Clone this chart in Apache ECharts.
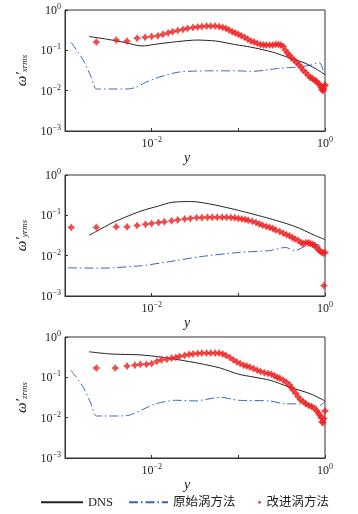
<!DOCTYPE html>
<html><head><meta charset="utf-8">
<script src="https://cdn.jsdelivr.net/npm/echarts@6/dist/echarts.min.js"></script>
<style>html,body{margin:0;padding:0;background:#fff}#c{width:358px;height:514px}</style>
</head><body><div id="c"></div>
<script>
// Panel 1 (x component)
const dns1 = [[0.0019,0.22],[0.003,0.19],[0.005,0.155],[0.0077,0.128],[0.012,0.145],[0.02,0.165],[0.033,0.18],[0.055,0.17],[0.09,0.14],[0.14,0.12],[0.25,0.09],[0.39,0.065],[0.59,0.048],[0.80,0.034],[1.0,0.025]];
const orig1 = [[0.00117,0.16],[0.0016,0.06],[0.0020,0.022],[0.0023,0.011],[0.0035,0.011],[0.0052,0.011],[0.0065,0.012],[0.0085,0.016],[0.0125,0.022],[0.021,0.029],[0.047,0.031],[0.070,0.031],[0.10,0.031],[0.14,0.030],[0.20,0.032],[0.30,0.036],[0.45,0.038],[0.55,0.040],[0.68,0.043],[0.80,0.048],[0.86,0.050],[0.92,0.040],[0.96,0.030],[1.0,0.028]];
const impr1 = [[0.0023,0.16],[0.0039,0.18],[0.0052,0.17],[0.0068,0.20],[0.0084,0.21],[0.0100,0.22],[0.0118,0.23],[0.0135,0.25],[0.0155,0.27],[0.0175,0.29],[0.020,0.31],[0.023,0.33],[0.026,0.35],[0.030,0.37],[0.034,0.38],[0.038,0.39],[0.043,0.40],[0.048,0.40],[0.054,0.40],[0.060,0.39],[0.066,0.37],[0.072,0.35],[0.078,0.32],[0.085,0.29],[0.092,0.27],[0.100,0.25],[0.108,0.23],[0.118,0.21],[0.128,0.19],[0.140,0.17],[0.152,0.16],[0.165,0.15],[0.180,0.14],[0.195,0.135],[0.21,0.135],[0.23,0.135],[0.25,0.135],[0.27,0.14],[0.29,0.14],[0.31,0.135],[0.33,0.125],[0.35,0.10],[0.37,0.085],[0.39,0.075],[0.41,0.065],[0.44,0.058],[0.47,0.050],[0.50,0.044],[0.53,0.038],[0.56,0.032],[0.60,0.028],[0.64,0.024],[0.68,0.021],[0.72,0.020],[0.76,0.018],[0.80,0.017],[0.84,0.015],[0.87,0.014],[0.90,0.012],[0.92,0.0105],[0.95,0.010],[0.97,0.011],[0.99,0.013],[1.0,0.014]];
// Panel 2 (y component)
const dns2 = [[0.0019,0.032],[0.0023,0.040],[0.0035,0.065],[0.0049,0.089],[0.0077,0.13],[0.012,0.17],[0.017,0.21],[0.029,0.22],[0.054,0.18],[0.10,0.133],[0.23,0.083],[0.45,0.053],[0.76,0.032],[1.0,0.025]];
const orig2 = [[0.00108,0.005],[0.0025,0.0049],[0.0074,0.0056],[0.016,0.0071],[0.036,0.0094],[0.10,0.012],[0.23,0.0134],[0.35,0.016],[0.45,0.0134],[0.59,0.017],[0.83,0.019],[0.92,0.014],[1.0,0.013]];
const impr2 = [[0.00118,0.05],[0.0023,0.05],[0.0039,0.052],[0.0052,0.052],[0.0068,0.056],[0.0085,0.06],[0.0100,0.063],[0.012,0.066],[0.014,0.069],[0.017,0.073],[0.020,0.077],[0.024,0.081],[0.028,0.084],[0.033,0.087],[0.038,0.088],[0.044,0.089],[0.050,0.089],[0.057,0.089],[0.065,0.089],[0.073,0.089],[0.082,0.088],[0.091,0.087],[0.10,0.084],[0.11,0.081],[0.12,0.079],[0.13,0.075],[0.145,0.071],[0.16,0.066],[0.175,0.061],[0.19,0.057],[0.21,0.053],[0.23,0.050],[0.25,0.047],[0.27,0.043],[0.30,0.040],[0.33,0.036],[0.36,0.033],[0.39,0.031],[0.42,0.028],[0.45,0.026],[0.49,0.024],[0.53,0.021],[0.56,0.020],[0.60,0.021],[0.64,0.021],[0.68,0.020],[0.72,0.019],[0.76,0.018],[0.80,0.016],[0.84,0.014],[0.88,0.013],[0.92,0.012],[0.96,0.0115],[1.0,0.012],[0.97,0.0018]];
// Panel 3 (z component)
const dns3 = [[0.0019,0.43],[0.0033,0.38],[0.0074,0.36],[0.0125,0.32],[0.021,0.27],[0.036,0.22],[0.062,0.17],[0.10,0.12],[0.23,0.085],[0.39,0.057],[0.68,0.039],[1.0,0.026]];
const orig3 = [[0.00117,0.15],[0.0016,0.06],[0.0020,0.022],[0.0023,0.011],[0.0038,0.011],[0.0055,0.0115],[0.0084,0.017],[0.011,0.022],[0.019,0.027],[0.032,0.026],[0.062,0.032],[0.10,0.027],[0.23,0.026],[0.35,0.022],[0.59,0.022],[0.83,0.019],[1.0,0.025]];
const impr3 = [[0.0023,0.17],[0.0038,0.17],[0.0052,0.19],[0.0064,0.20],[0.0074,0.21],[0.0087,0.21],[0.0100,0.22],[0.0115,0.25],[0.013,0.27],[0.015,0.28],[0.017,0.30],[0.019,0.31],[0.021,0.33],[0.024,0.35],[0.027,0.37],[0.030,0.38],[0.034,0.39],[0.038,0.40],[0.043,0.40],[0.048,0.40],[0.054,0.40],[0.060,0.40],[0.066,0.38],[0.072,0.35],[0.080,0.31],[0.088,0.27],[0.096,0.24],[0.105,0.22],[0.115,0.20],[0.125,0.19],[0.136,0.18],[0.150,0.165],[0.165,0.15],[0.18,0.14],[0.20,0.13],[0.22,0.125],[0.24,0.12],[0.26,0.11],[0.28,0.10],[0.30,0.096],[0.33,0.085],[0.36,0.075],[0.39,0.065],[0.41,0.055],[0.43,0.048],[0.46,0.040],[0.49,0.033],[0.52,0.028],[0.56,0.025],[0.60,0.022],[0.65,0.020],[0.70,0.019],[0.75,0.017],[0.80,0.015],[0.84,0.013],[0.87,0.0115],[0.90,0.010],[0.92,0.0078],[0.95,0.0075],[0.97,0.0095],[1.0,0.0147]];

const xTickLabels = {'0.01':'−2','1':'0'};
const yTickLabels = {'0.001':'−3','0.01':'−2','0.1':'−1','1':'0'};
const seriesNames = ['DNS','原始涡方法','改进涡方法'];
const yComponents = ['x','y','z'];

const panels = [[dns1,orig1,impr1],[dns2,orig2,impr2],[dns3,orig3,impr3]];
const tops = [10,175,337];
const FONT = '"Liberation Serif","Noto Sans CJK SC",serif';
const rich = {
  b:{fontSize:12,fontFamily:FONT,color:'#222',lineHeight:14,verticalAlign:'bottom'},
  s:{fontSize:8,fontFamily:FONT,color:'#222',lineHeight:14,verticalAlign:'top',padding:[0,0,5,0]}
};
function key(v){ const e=Math.round(Math.log10(v)); return e>=0?'1':Math.pow(10,e).toFixed(-e); }

const grids=[], xAxes=[], yAxes=[], series=[];
panels.forEach((p,i)=>{
  grids.push({left:65,right:33,top:tops[i],height:121,show:true,borderColor:'#333',borderWidth:1,backgroundColor:'transparent'});
  xAxes.push({type:'log',logBase:10,gridIndex:i,min:0.001,max:1,
    name:'y',nameLocation:'middle',nameGap:19,
    nameTextStyle:{fontFamily:FONT,fontStyle:'italic',fontSize:14,color:'#222',padding:[0,16,0,0]},
    axisLine:{lineStyle:{color:'#333'}},splitLine:{show:false},
    axisTick:{inside:true,length:3,lineStyle:{color:'#333'}},minorTick:{show:false},
    axisLabel:{margin:5,formatter:v=>{const k=key(v);return xTickLabels[k]!==undefined?'{b|10}{s|'+xTickLabels[k]+'}':'';},rich:rich}});
  yAxes.push({type:'log',logBase:10,gridIndex:i,min:0.001,max:1,
    name:'{w|ω′}{sub|'+yComponents[i]+'rms}',nameLocation:'middle',nameRotate:90,nameGap:30,
    nameTextStyle:{rich:{w:{fontSize:15,fontFamily:FONT,fontStyle:'italic',color:'#222',lineHeight:18,verticalAlign:'bottom'},sub:{fontSize:9,fontFamily:FONT,fontStyle:'italic',color:'#222',lineHeight:18,verticalAlign:'bottom',padding:[4,0,0,0]}}},
    axisLine:{lineStyle:{color:'#333'}},splitLine:{show:false},
    axisTick:{inside:true,length:3,lineStyle:{color:'#333'}},
    axisLabel:{margin:4,formatter:v=>{const k=key(v);return yTickLabels[k]!==undefined?'{b|10}{s|'+yTickLabels[k]+'}':'';},rich:rich}});
  series.push({name:seriesNames[0],type:'line',xAxisIndex:i,yAxisIndex:i,data:p[0],showSymbol:false,symbol:'none',smooth:0.25,
    lineStyle:{color:'#222',width:1},itemStyle:{color:'#222'},z:3});
  series.push({name:seriesNames[1],type:'line',xAxisIndex:i,yAxisIndex:i,data:p[1],showSymbol:false,symbol:'none',smooth:0.25,
    lineStyle:{color:'#3b62c9',width:1,type:[9,3,1.5,3]},itemStyle:{color:'#3b62c9'},z:2});
  series.push({name:seriesNames[2],type:'scatter',xAxisIndex:i,yAxisIndex:i,data:p[2],
    symbol:'path://M0,-10 L4,-4 L10,0 L4,4 L0,10 L-4,4 L-10,0 L-4,-4 Z',symbolSize:8,
    itemStyle:{color:'#ee1f1f'},z:4});
});

const legText = {fontFamily:FONT,fontSize:12.5,color:'#222'};
const chart = echarts.init(document.getElementById('c'),null,{renderer:'canvas'});
chart.setOption({
  animation:false,
  grid:grids,xAxis:xAxes,yAxis:yAxes,series:series,
  legend:[
    {data:[seriesNames[0]],left:40,top:496,padding:0,itemWidth:42,itemHeight:10,itemGap:0,
     itemStyle:{opacity:0},textStyle:legText},
    {data:[seriesNames[1]],left:128,top:496,padding:0,itemWidth:39,itemHeight:10,itemGap:0,
     itemStyle:{opacity:0},textStyle:legText},
    {data:[{name:seriesNames[2],icon:'circle'}],left:258,top:496,padding:0,itemWidth:4,itemHeight:3,itemGap:0,
     textStyle:legText}
  ]
});
</script></body></html>
